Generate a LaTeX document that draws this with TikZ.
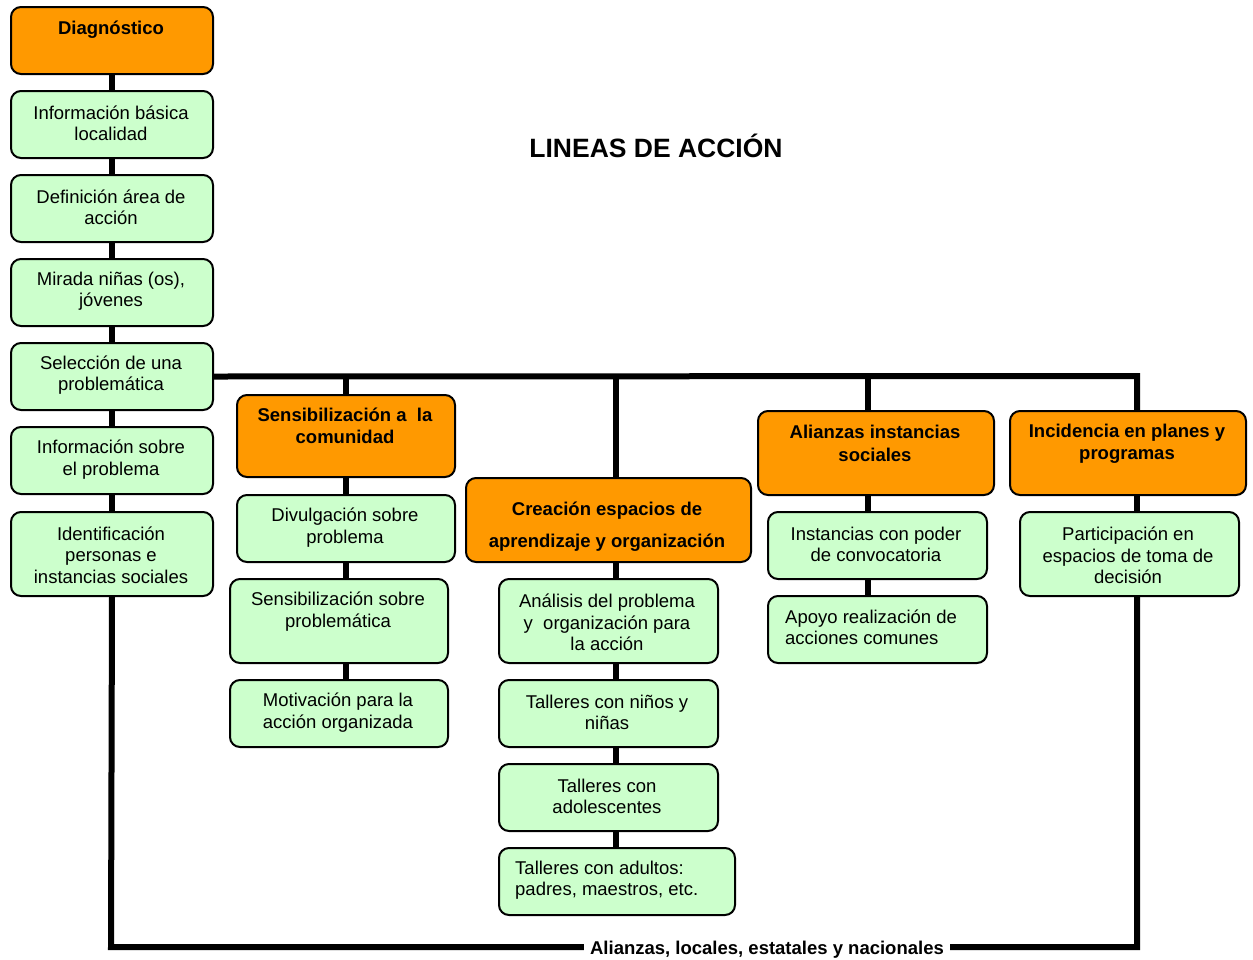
\documentclass[tikz,border=0pt]{standalone}
\usepackage{fontspec}
\setmainfont{Liberation Sans}
\definecolor{orangeh}{HTML}{FF9900}
\definecolor{greenh}{HTML}{CCFFCC}
% rounded panel from its top-left to its bottom-right corner
\newcommand\panel[6]{%
  \node[#1, minimum width={#5-#3}, minimum height={#6-#4}, anchor=north west] (#2) at (#3,#4) {};}
\begin{document}
\begin{tikzpicture}[x=1pt,y=-1pt,
  boxbase/.style={draw=black, line width=2pt, rounded corners=10pt, inner sep=0pt},
  headbox/.style={boxbase, fill=orangeh},
  itembox/.style={boxbase, fill=greenh},
  headtxt/.style={font=\fontsize{18.5}{22.5}\selectfont\bfseries, align=center, inner sep=0pt, yshift=-1.5pt},
  itemtxt/.style={font=\fontsize{18.5}{21.3}\selectfont, align=center, inner sep=0pt, yshift=-1.5pt},
  conn/.style={line width=6pt},
]
\useasboundingbox (0,0) rectangle (1253,959);

% title
\node[font=\fontsize{26.5}{30}\selectfont\bfseries, inner sep=0pt] (title) at (656,145.5) {LINEAS DE ACCIÓN};

% left column: diagnosis steps
\panel{headbox}{diag}{10}{6}{212}{73}
\node[headtxt] (diag-t) at (111,28) {Diagnóstico};
\panel{itembox}{info}{10}{90}{212}{157}
\node[itemtxt] (info-t) at (111,121.5) {Información básica\\localidad};
\panel{itembox}{area}{10}{174}{212}{241}
\node[itemtxt] (area-t) at (111,205.5) {Definición área de\\acción};
\panel{itembox}{mira}{10}{258}{212}{325}
\node[itemtxt] (mira-t) at (111,289.5) {Mirada niñas (os),\\jóvenes};
\panel{itembox}{sele}{10}{342}{212}{409}
\node[itemtxt] (sele-t) at (111,373.5) {Selección de una\\problemática};
\panel{itembox}{prob}{10}{426}{212}{493}
\node[itemtxt] (prob-t) at (111,458) {Información sobre\\el problema};
\panel{itembox}{iden}{10}{511}{212}{595}
\node[itemtxt] (iden-t) at (111,553.5) {Identificación\\personas e\\instancias sociales};

% column: sensibilization
\panel{headbox}{sens}{236}{394}{454}{476}
\node[headtxt] (sens-t) at (345,424.5) {Sensibilización a \ la\\comunidad};
\panel{itembox}{divu}{236}{494}{454}{561}
\node[itemtxt] (divu-t) at (345,526) {Divulgación sobre\\problema};
\panel{itembox}{sesp}{229}{578}{447}{662}
\node[itemtxt] (sesp-t) at (338,610) {Sensibilización sobre\\problemática};
\panel{itembox}{moti}{229}{679}{447}{746}
\node[itemtxt] (moti-t) at (338,711) {Motivación para la\\acción organizada};

% column: learning spaces
\panel{headbox}{crea}{465}{477}{750}{561}
\node[headtxt, font=\fontsize{18.5}{32}\selectfont\bfseries] (crea-t) at (607,525) {Creación espacios de\\aprendizaje y organización};
\panel{itembox}{anal}{498}{578}{717}{662}
\node[itemtxt] (anal-t) at (607,621) {Análisis del problema\\y \ organización para\\la acción};
\panel{itembox}{tnin}{498}{679}{717}{746}
\node[itemtxt] (tnin-t) at (607,711) {Talleres con niños y\\niñas};
\panel{itembox}{tado}{498}{763}{717}{830}
\node[itemtxt] (tado-t) at (607,795) {Talleres con\\adolescentes};
\panel{itembox}{tadu}{498}{847}{734}{914}
\node[itemtxt, align=left, anchor=west] (tadu-t) at (515,879) {Talleres con adultos:\\padres, maestros, etc.};

% column: alliances
\panel{headbox}{alia}{757}{410}{993}{494}
\node[headtxt] (alia-t) at (875,442) {Alianzas instancias\\sociales};
\panel{itembox}{inst}{767}{511}{986}{578}
\node[itemtxt] (inst-t) at (876,543) {Instancias con poder\\de convocatoria};
\panel{itembox}{apoy}{767}{595}{986}{662}
\node[itemtxt, align=left, anchor=west] (apoy-t) at (785,626) {Apoyo realización de\\acciones comunes};

% column: policy incidence
\panel{headbox}{inci}{1009}{410}{1245}{494}
\node[headtxt] (inci-t) at (1127,442) {Incidencia en planes y\\programas};
\panel{itembox}{part}{1019}{511}{1238}{595}
\node[itemtxt] (part-t) at (1128,554) {Participación en\\espacios de toma de\\decisión};

% bus junctions
\coordinate (b2) at (346,376);
\coordinate (b3) at (616,376);
\coordinate (b4) at (868,376);
\coordinate (b5) at (1137,376);
\coordinate (bl) at (111,947);
\coordinate (br) at (1137,947);

% connectors
\foreach \a/\b in {diag/info,info/area,area/mira,mira/sele,sele/prob,prob/iden}
  \draw[conn] (\a.south) -- (\b.north);
\draw[conn] (sele.east) -- (b5) -- (b5 |- inci.north);
\draw[conn] (b2) -- (b2 |- sens.north);
\draw[conn] (b3) -- (b3 |- crea.north);
\draw[conn] (b4) -- (b4 |- alia.north);
\draw[conn] (b2 |- sens.south) -- (b2 |- divu.north);
\draw[conn] (b2 |- divu.south) -- (b2 |- sesp.north);
\draw[conn] (b2 |- sesp.south) -- (b2 |- moti.north);
\draw[conn] (b3 |- crea.south) -- (b3 |- anal.north);
\draw[conn] (b3 |- anal.south) -- (b3 |- tnin.north);
\draw[conn] (b3 |- tnin.south) -- (b3 |- tado.north);
\draw[conn] (b3 |- tado.south) -- (b3 |- tadu.north);
\draw[conn] (b4 |- alia.south) -- (b4 |- inst.north);
\draw[conn] (b4 |- inst.south) -- (b4 |- apoy.north);
\draw[conn] (b5 |- inci.south) -- (b5 |- part.north);
\draw[conn] (iden.south) -- (bl) -- (br) -- (b5 |- part.south);

% label on the bottom line
\node[fill=white, inner xsep=6pt, inner ysep=2pt, font=\fontsize{18.5}{21}\selectfont\bfseries] (red) at (767,949.5) {Alianzas, locales, estatales y nacionales};
\end{tikzpicture}
\end{document}
